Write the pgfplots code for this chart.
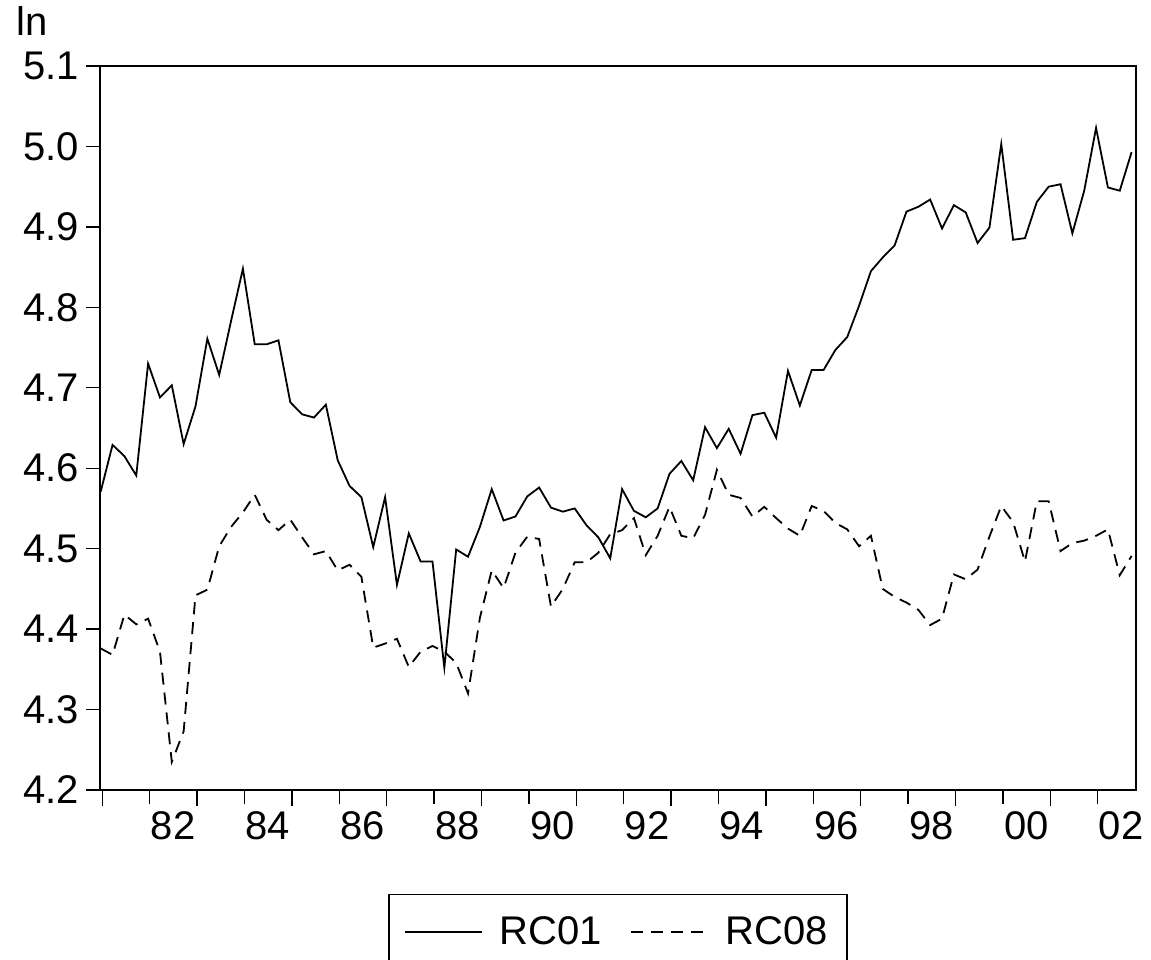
\documentclass[border=0pt]{standalone}
\usepackage{fontspec}
\setmainfont{Liberation Sans}
\usepackage{pgfplots}
\usepackage{pgfplotstable}
\pgfplotsset{compat=1.18}

\pgfplotstableread{
i rc01 rc08
0 4.571 4.376
1 4.629 4.368
2 4.615 4.418
3 4.591 4.406
4 4.730 4.413
5 4.688 4.372
6 4.703 4.235
7 4.630 4.273
8 4.677 4.442
9 4.761 4.449
10 4.716 4.503
11 4.783 4.527
12 4.848 4.545
13 4.754 4.567
14 4.754 4.536
15 4.759 4.523
16 4.682 4.536
17 4.667 4.514
18 4.663 4.493
19 4.679 4.497
20 4.610 4.473
21 4.578 4.480
22 4.564 4.465
23 4.502 4.377
24 4.564 4.382
25 4.455 4.388
26 4.519 4.353
27 4.484 4.372
28 4.484 4.379
29 4.352 4.372
30 4.499 4.358
31 4.490 4.320
32 4.527 4.414
33 4.574 4.473
34 4.535 4.451
35 4.540 4.495
36 4.565 4.515
37 4.576 4.512
38 4.551 4.428
39 4.546 4.450
40 4.550 4.483
41 4.529 4.483
42 4.514 4.495
43 4.488 4.518
44 4.574 4.523
45 4.547 4.538
46 4.539 4.492
47 4.550 4.516
48 4.593 4.552
49 4.609 4.516
50 4.585 4.513
51 4.651 4.542
52 4.625 4.598
53 4.649 4.567
54 4.618 4.563
55 4.666 4.540
56 4.669 4.552
57 4.638 4.538
58 4.721 4.525
59 4.678 4.516
60 4.722 4.553
61 4.722 4.547
62 4.747 4.532
63 4.763 4.524
64 4.802 4.503
65 4.845 4.516
66 4.862 4.450
67 4.877 4.440
68 4.919 4.433
69 4.925 4.424
70 4.934 4.405
71 4.898 4.413
72 4.927 4.468
73 4.918 4.462
74 4.880 4.474
75 4.899 4.515
76 5.003 4.553
77 4.884 4.533
78 4.886 4.484
79 4.931 4.559
80 4.950 4.559
81 4.953 4.497
82 4.892 4.507
83 4.945 4.510
84 5.023 4.516
85 4.949 4.524
86 4.945 4.467
87 4.993 4.491
}\datatable

\begin{document}
\begin{tikzpicture}
\useasboundingbox (-50pt,-84.5pt) rectangle (525.5pt,395pt);
\begin{axis}[
  at={(0pt,0pt)}, anchor=south west,
  scale only axis, width=518pt, height=362pt,
  xmin=-0.06, xmax=87.37, ymin=4.2, ymax=5.1,
  axis line style={line width=0.9pt},
  tick align=outside, tick pos=left,
  major tick length=7pt, minor tick length=8pt,
  every tick/.style={line width=0.7pt, black},
  xtick={4.135,12.135,20.135,28.135,36.135,44.135,52.135,60.135,68.135,76.135,84.135},
  xticklabels={82,84,86,88,90,92,94,96,98,00,02},
  minor xtick={0.135,8.135,16.135,24.135,32.135,40.135,48.135,56.135,64.135,72.135,80.135},
  xticklabel style={xshift=11.7pt},
  ytick={4.2,4.3,4.4,4.5,4.6,4.7,4.8,4.9,5.0,5.1},
  yticklabels={4.2,4.3,4.4,4.5,4.6,4.7,4.8,4.9,5.0,5.1},
  tick label style={font=\fontsize{20pt}{24pt}\selectfont},
  legend columns=2,
  legend style={at={(0.5,-0.1436)}, anchor=north, draw=black, line width=0.6pt,
    font=\fontsize{20pt}{24pt}\selectfont, inner xsep=7.5pt, inner ysep=9pt,
    /tikz/every even column/.append style={column sep=12pt}},
  legend image code/.code={\draw[#1, line width=0.9pt] (0pt,0pt) -- (38.5pt,0pt); \path (45pt,0pt);},
]
\addplot[black, line width=0.9pt] table[x=i, y=rc01] {\datatable};
\addlegendentry{RC01}
\addplot[black, line width=0.9pt, dash pattern=on 6pt off 4pt] table[x=i, y=rc08] {\datatable};
\addlegendentry{RC08}
\end{axis}
\node[anchor=base west, inner sep=0pt, font=\fontsize{20pt}{24pt}\selectfont] at (-42pt,377pt) {ln};
\end{tikzpicture}
\end{document}
